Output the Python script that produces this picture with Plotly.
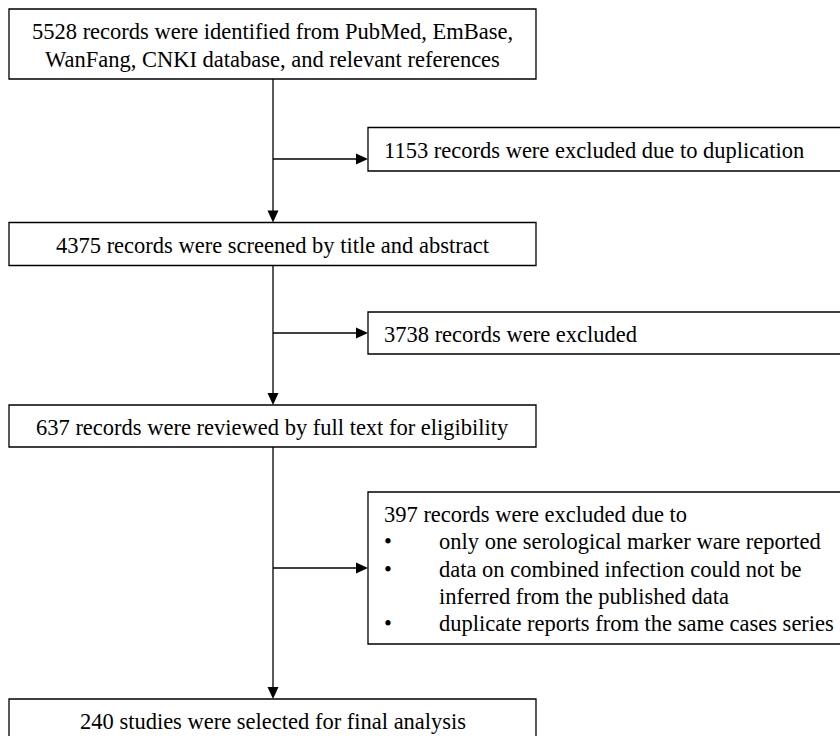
import plotly.graph_objects as go

# Flow chart texts (one list per box, one entry per line)
identified_lines = ["5528 records were identified from PubMed, EmBase,",
                    "WanFang, CNKI database, and relevant references"]
duplicate_lines = ["1153 records were excluded due to duplication"]
screened_lines = ["4375 records were screened by title and abstract"]
excluded_lines = ["3738 records were excluded"]
reviewed_lines = ["637 records were reviewed by full text for eligibility"]
reasons_head = "397 records were excluded due to"
reasons_bullets = ["only one serological marker ware reported",
                   "data on combined infection could not be",
                   "inferred from the published data",
                   "duplicate reports from the same cases series"]
# which reason lines carry a bullet (the 3rd is a continuation line)
reasons_has_bullet = [True, True, False, True]
final_lines = ["240 studies were selected for final analysis"]

W, H = 840, 736
FONT = dict(family="Liberation Serif, Times New Roman, serif", size=22.5, color="black")
LINE_W = 1.3
MAIN_X = 273          # x of the main vertical flow line
LEFT_BOX = (9, 536)   # x0, x1 of the main column boxes
SIDE_BOX = (368, 846) # x0, x1 of the side (exclusion) boxes
TEXT_X, INDENT_X = 382, 437
HEAD_LEN, HEAD_HALF = 12, 5.5

fig = go.Figure()


def add_box(x0, x1, y0, y1):
    fig.add_shape(type="rect", x0=x0, x1=x1, y0=y0, y1=y1, xref="x", yref="y",
                  line=dict(color="black", width=LINE_W), fillcolor="white", layer="below")


def add_lines(lines, x, yc, spacing, anchor):
    n = len(lines)
    for i, t in enumerate(lines):
        fig.add_annotation(x=x, y=yc + (i - (n - 1) / 2) * spacing, text=t, xref="x", yref="y",
                           showarrow=False, xanchor=anchor, yanchor="middle", font=FONT)


def add_segment(x0, y0, x1, y1):
    fig.add_shape(type="line", x0=x0, y0=y0, x1=x1, y1=y1, xref="x", yref="y",
                  line=dict(color="black", width=LINE_W))


def arrow_down(x, y_tip):
    fig.add_shape(type="path", xref="x", yref="y", fillcolor="black", line=dict(width=0),
                  path=f"M {x - HEAD_HALF} {y_tip - HEAD_LEN} L {x + HEAD_HALF} {y_tip - HEAD_LEN} L {x} {y_tip} Z")


def arrow_right(x_tip, y):
    fig.add_shape(type="path", xref="x", yref="y", fillcolor="black", line=dict(width=0),
                  path=f"M {x_tip - HEAD_LEN} {y - HEAD_HALF} L {x_tip - HEAD_LEN} {y + HEAD_HALF} L {x_tip} {y} Z")


# main column boxes (y0, y1)
main_boxes = [(9, 79, identified_lines), (222.5, 265.5, screened_lines),
              (405, 447, reviewed_lines), (699, 741, final_lines)]
for y0, y1, lines in main_boxes:
    add_box(LEFT_BOX[0], LEFT_BOX[1], y0, y1)
    add_lines(lines, (LEFT_BOX[0] + LEFT_BOX[1]) / 2, (y0 + y1) / 2 + 1, 28, "center")

# vertical flow with arrows into the next box
for (a0, a1, _), (b0, b1, _) in zip(main_boxes[:-1], main_boxes[1:]):
    add_segment(MAIN_X, a1, MAIN_X, b0 - HEAD_LEN + 1)
    arrow_down(MAIN_X, b0)

# side boxes
side_boxes = [(127.5, 171), (312, 354), (492, 644)]
add_box(SIDE_BOX[0], SIDE_BOX[1], *side_boxes[0])
add_lines(duplicate_lines, TEXT_X, sum(side_boxes[0]) / 2 + 1, 28, "left")
add_box(SIDE_BOX[0], SIDE_BOX[1], *side_boxes[1])
add_lines(excluded_lines, TEXT_X, sum(side_boxes[1]) / 2 + 1, 28, "left")

add_box(SIDE_BOX[0], SIDE_BOX[1], *side_boxes[2])
yc = sum(side_boxes[2]) / 2 + 1
sp = 27.2
add_lines([reasons_head], TEXT_X, yc - 2 * sp, sp, "left")
for i, (t, b) in enumerate(zip(reasons_bullets, reasons_has_bullet)):
    y = yc + (i - 1) * sp
    if b:
        add_lines(["•"], TEXT_X, y, sp, "left")
    add_lines([t], INDENT_X, y, sp, "left")

# branches to the side boxes
for y in [159, 333, 568]:
    add_segment(MAIN_X, y, SIDE_BOX[0] - HEAD_LEN + 1, y)
    arrow_right(SIDE_BOX[0], y)

fig.update_layout(
    width=W, height=H,
    margin=dict(l=0, r=0, t=0, b=0),
    paper_bgcolor="white", plot_bgcolor="white",
    xaxis=dict(range=[0, W], visible=False, fixedrange=True),
    yaxis=dict(range=[H, 0], visible=False, fixedrange=True),
    showlegend=False,
)

# drop the browser's default body margin so the chart sits at the page corner
fig.write_html("out.html", config={"displayModeBar": False},
               post_script="document.body.style.margin='0';document.body.style.overflow='hidden';")
